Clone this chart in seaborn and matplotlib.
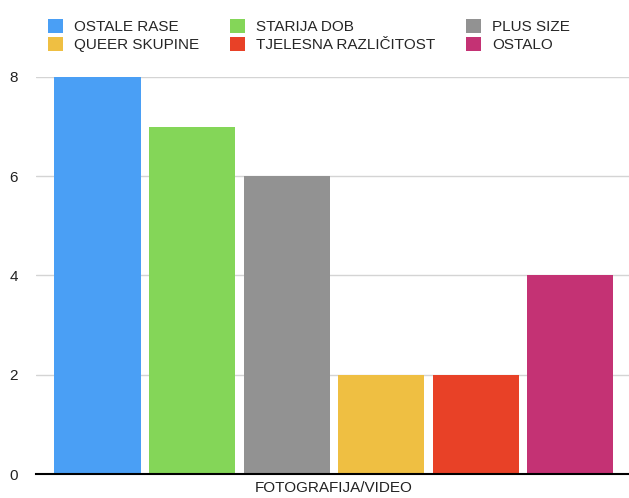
import matplotlib
matplotlib.use("Agg")
import matplotlib.pyplot as plt
import seaborn as sns
import pandas as pd

kategorija = "FOTOGRAFIJA/VIDEO"
skupine = ["OSTALE RASE", "STARIJA DOB", "PLUS SIZE",
           "QUEER SKUPINE", "TJELESNA RAZLIČITOST", "OSTALO"]
vrijednosti = [8, 7, 6, 2, 2, 4]
boje = ["#4A9FF5", "#84D658", "#929292", "#EFBF42", "#E84127", "#C43274"]

df = pd.DataFrame({"kat": [kategorija] * len(skupine),
                   "skupina": skupine,
                   "broj": vrijednosti})

sns.set_style("white")
plt.rcParams["font.family"] = ["Liberation Sans", "DejaVu Sans"]

fig = plt.figure(figsize=(6.29, 4.98), dpi=100)
ax = fig.add_axes([36 / 629, 24 / 498, 593 / 629, 397 / 498])

sns.barplot(data=df, x="kat", y="broj", hue="skupina", hue_order=skupine,
            palette=boje, saturation=1, width=0.8, gap=0.09, linewidth=0, ax=ax)

ax.set_ylim(0, 8)
ax.set_xlim(-0.42, 0.416)
ax.set_yticks([0, 2, 4, 6, 8])
ax.grid(axis="y", color="#d4d4d4", linewidth=1)
ax.set_axisbelow(True)
for s in ["top", "right", "left"]:
    ax.spines[s].set_visible(False)
ax.spines["bottom"].set_color("black")
ax.spines["bottom"].set_linewidth(1.5)
ax.spines["bottom"].set_zorder(5)
ax.tick_params(axis="both", length=0, labelsize=11, colors="#222222")
ax.tick_params(axis="y", pad=13)
ax.tick_params(axis="x", pad=5)
ax.set_xlabel("")
ax.set_ylabel("")

# legenda: redoslijed po recima (matplotlib puni po stupcima)
handles, labels = ax.get_legend_handles_labels()
ax.get_legend().remove()
red = [0, 3, 1, 4, 2, 5]
fig.legend([handles[i] for i in red], [labels[i] for i in red],
           ncol=3, loc="upper left", bbox_to_anchor=(48 / 629, 1 - 19 / 498),
           frameon=False, fontsize=11, borderpad=0, borderaxespad=0,
           handlelength=1.0, handleheight=1.0, handletextpad=0.72,
           labelspacing=0.2, columnspacing=2.0)

fig.savefig("out.png", dpi=100)
